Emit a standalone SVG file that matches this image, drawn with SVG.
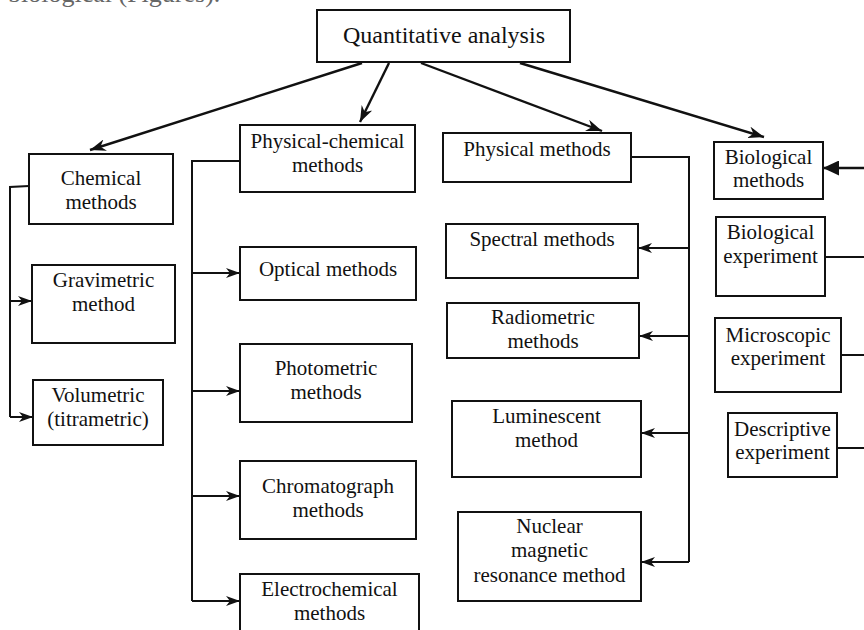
<svg xmlns="http://www.w3.org/2000/svg" width="864" height="630" viewBox="0 0 864 630">
<style>
.box{fill:#fff;stroke:#111;stroke-width:2}
.t{font-family:"Liberation Serif","Times New Roman",serif;font-size:21px;fill:#111;text-anchor:middle}
.big{font-size:24px}
.ln{fill:none;stroke:#111;stroke-width:2}
.la{fill:none;stroke:#111;stroke-width:2.4;marker-end:url(#c)}
.lb{fill:none;stroke:#111;stroke-width:2;marker-end:url(#a)}
</style>
<defs>
<marker id="a" viewBox="0 0 14 10" refX="14" refY="5" markerWidth="14" markerHeight="10" orient="auto" markerUnits="userSpaceOnUse">
<path d="M0,0 L14,5 L0,10 L4,5 z" fill="#111"/>
</marker>
<marker id="c" viewBox="0 0 16 12" refX="16" refY="6" markerWidth="16" markerHeight="12" orient="auto" markerUnits="userSpaceOnUse">
<path d="M0,0 L16,6 L0,12 L5,6 z" fill="#111"/>
</marker>
<marker id="b" viewBox="0 0 16 15" refX="16" refY="7.5" markerWidth="16" markerHeight="15" orient="auto" markerUnits="userSpaceOnUse">
<path d="M0,0 L16,7.5 L0,15 z" fill="#111"/>
</marker>
</defs>
<rect width="864" height="630" fill="#fff"/>
<text x="8" y="2" style="font-family:'Liberation Serif',serif;font-size:26px;fill:#666">biological (Figures).</text>

<g id="connectors">
<line class="la" x1="362" y1="63" x2="90" y2="150"/>
<line class="la" x1="389" y1="63" x2="360" y2="122"/>
<line class="la" x1="421" y1="63" x2="602" y2="131"/>
<line class="la" x1="520" y1="63" x2="764" y2="137"/>
<polyline class="ln" points="29,186 10,187 10,417"/>
<line class="lb" x1="10" y1="301" x2="32" y2="301"/>
<line class="lb" x1="10" y1="417" x2="33" y2="417"/>
<polyline class="ln" points="240,161 192,161 192,601"/>
<line class="lb" x1="192" y1="273" x2="240" y2="273"/>
<line class="lb" x1="192" y1="391" x2="240" y2="391"/>
<line class="lb" x1="192" y1="496" x2="240" y2="496"/>
<line class="lb" x1="192" y1="601" x2="240" y2="601"/>
<polyline class="ln" points="631,157 689,157 689,562"/>
<line class="lb" x1="689" y1="248" x2="638" y2="248"/>
<line class="lb" x1="689" y1="336" x2="639" y2="336"/>
<line class="lb" x1="689" y1="433" x2="641" y2="433"/>
<line class="lb" x1="689" y1="562" x2="641" y2="562"/>
<line style="fill:none;stroke:#111;stroke-width:2.4;marker-end:url(#b)" x1="864" y1="168" x2="823" y2="168"/>
<line class="ln" x1="825" y1="257" x2="864" y2="257"/>
<line class="ln" x1="841" y1="355" x2="864" y2="355"/>
<line class="ln" x1="837" y1="448" x2="864" y2="448"/>
</g>

<g id="qa"><rect class="box" x="317" y="10" width="253" height="52"/><text class="t big" x="444" y="43">Quantitative analysis</text></g>

<g id="chemical"><rect class="box" x="29" y="154" width="144" height="70"/><text class="t" x="101" y="185">Chemical</text><text class="t" x="101" y="209">methods</text></g>
<g id="gravimetric"><rect class="box" x="32" y="265" width="143" height="78"/><text class="t" x="103.5" y="287">Gravimetric</text><text class="t" x="103.5" y="311">method</text></g>
<g id="volumetric"><rect class="box" x="33" y="380" width="130" height="65"/><text class="t" x="98" y="402">Volumetric</text><text class="t" x="98" y="426">(titrametric)</text></g>

<g id="physchem"><rect class="box" x="240" y="125" width="175" height="67"/><text class="t" x="327.5" y="148">Physical-chemical</text><text class="t" x="327.5" y="172">methods</text></g>
<g id="optical"><rect class="box" x="240" y="247" width="176" height="53"/><text class="t" x="328" y="276">Optical methods</text></g>
<g id="photometric"><rect class="box" x="240" y="344" width="172" height="78"/><text class="t" x="326" y="375">Photometric</text><text class="t" x="326" y="399">methods</text></g>
<g id="chromatograph"><rect class="box" x="240" y="461" width="176" height="78"/><text class="t" x="328" y="493">Chromatograph</text><text class="t" x="328" y="517">methods</text></g>
<g id="electrochemical"><rect class="box" x="240" y="574" width="179" height="70"/><text class="t" x="329.5" y="596">Electrochemical</text><text class="t" x="329.5" y="620">methods</text></g>

<g id="physical"><rect class="box" x="443" y="133" width="188" height="49"/><text class="t" x="537" y="156">Physical methods</text></g>
<g id="spectral"><rect class="box" x="446" y="224" width="192" height="54"/><text class="t" x="542" y="246">Spectral methods</text></g>
<g id="radiometric"><rect class="box" x="447" y="303" width="192" height="55"/><text class="t" x="543" y="324">Radiometric</text><text class="t" x="543" y="348">methods</text></g>
<g id="luminescent"><rect class="box" x="452" y="401" width="189" height="76"/><text class="t" x="546.5" y="423">Luminescent</text><text class="t" x="546.5" y="447">method</text></g>
<g id="nmr"><rect class="box" x="458" y="512" width="183" height="89"/><text class="t" x="549.5" y="533">Nuclear</text><text class="t" x="549.5" y="557">magnetic</text><text class="t" x="549.5" y="582">resonance method</text></g>

<g id="biological"><rect class="box" x="714" y="142" width="109" height="57"/><text class="t" x="768.5" y="164">Biological</text><text class="t" x="768.5" y="187">methods</text></g>
<g id="bioexp"><rect class="box" x="716" y="217" width="109" height="79"/><text class="t" x="770.5" y="239">Biological</text><text class="t" x="770.5" y="263">experiment</text></g>
<g id="microscopic"><rect class="box" x="715" y="318" width="126" height="74"/><text class="t" x="778" y="342">Microscopic</text><text class="t" x="778" y="365">experiment</text></g>
<g id="descriptive"><rect class="box" x="728" y="413" width="109" height="64"/><text class="t" x="782.5" y="436">Descriptive</text><text class="t" x="782.5" y="459">experiment</text></g>
</svg>
